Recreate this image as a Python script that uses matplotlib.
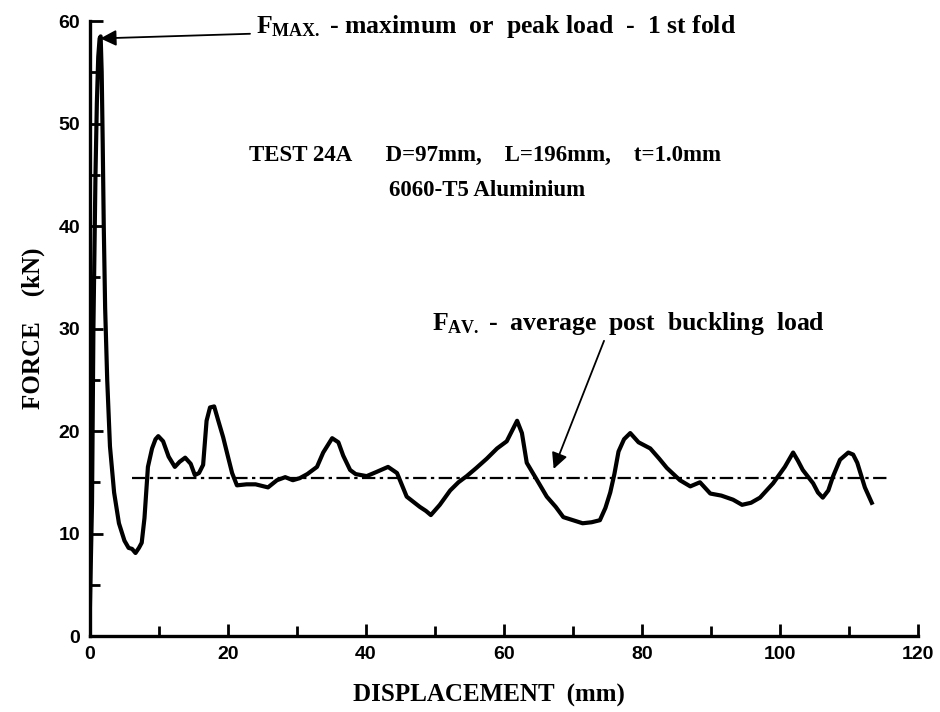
import numpy as np
import matplotlib.pyplot as plt
from matplotlib.ticker import MultipleLocator

# --- data ---
displacement = [0.0, 0.15, 0.3, 0.5, 0.8, 1.0, 1.2, 1.4, 1.55, 1.7, 1.85, 2.0, 2.2, 2.5, 2.9,
                3.5, 4.2, 5.0, 5.6, 6.1, 6.6, 7.1, 7.5, 7.9, 8.4, 9.0, 9.5, 9.9, 10.6,
                11.4, 12.3, 13.0, 13.8, 14.6, 15.2, 15.8, 16.4, 16.9, 17.4, 18.0, 18.6,
                19.3, 20.0, 20.6, 21.3, 22.7, 24.0, 25.8, 27.1, 28.3, 29.4, 30.4, 31.5,
                32.9, 33.8, 35.1, 36.0, 36.7, 37.7, 38.5, 40.1, 41.5, 43.2, 44.5, 45.9,
                47.8, 48.7, 49.4, 50.7, 52.2, 53.4, 54.6, 56.0, 57.5, 59.0, 60.4, 61.3,
                61.9, 62.6, 63.3, 64.8, 66.2, 67.5, 68.6, 70.0, 71.4, 72.7, 73.9, 74.7,
                75.4, 76.0, 76.6, 77.4, 78.3, 79.5, 81.2, 82.5, 83.6, 85.5, 87.0, 88.4,
                89.9, 91.5, 93.2, 94.5, 95.8, 97.1, 99.0, 100.7, 101.9, 102.6, 103.3,
                104.8, 105.5, 106.2, 107.0, 107.7, 108.7, 109.9, 110.6, 111.2, 112.3,
                113.3]
force = [3.0, 8.0, 13.0, 30.0, 45.0, 52.0, 56.5, 58.3, 58.5, 55.0, 48.0, 40.0, 32.0, 25.0, 18.5,
         14.0, 11.0, 9.3, 8.6, 8.5, 8.1, 8.6, 9.1, 11.5, 16.5, 18.3, 19.2, 19.5, 19.0,
         17.5, 16.5, 17.0, 17.4, 16.8, 15.7, 15.9, 16.7, 21.0, 22.3, 22.4, 21.0,
         19.4, 17.5, 15.9, 14.7, 14.8, 14.8, 14.5, 15.2, 15.5, 15.2, 15.4, 15.8,
         16.5, 17.9, 19.3, 18.9, 17.6, 16.2, 15.8, 15.6, 16.0, 16.5, 15.9, 13.6,
         12.6, 12.2, 11.8, 12.8, 14.2, 15.0, 15.6, 16.4, 17.3, 18.3, 19.0, 20.2,
         21.0, 19.8, 16.9, 15.2, 13.6, 12.6, 11.6, 11.3, 11.0, 11.1, 11.3, 12.5,
         14.0, 15.8, 18.0, 19.2, 19.8, 18.9, 18.3, 17.3, 16.4, 15.2, 14.6, 15.0,
         13.9, 13.7, 13.3, 12.8, 13.0, 13.5, 14.9, 16.5, 17.9, 17.1, 16.2,
         14.9, 14.0, 13.5, 14.2, 15.6, 17.2, 17.9, 17.7, 16.9, 14.5,
         13.0]

# average post buckling load
avg_x = [6.1, 115.5]
avg_force = [15.4, 15.4]

plt.rcParams['mathtext.fontset'] = 'custom'
plt.rcParams['mathtext.rm'] = 'Liberation Serif:bold'
plt.rcParams['mathtext.it'] = 'Liberation Serif:bold'

fig = plt.figure(figsize=(9.4, 7.12), dpi=100)
ax = fig.add_axes([0.0957, 0.1067, 0.8809, 0.8638])

ax.plot(displacement, force, color='black', linewidth=3.0, solid_joinstyle='round')
ax.plot(avg_x, avg_force, color='black', linewidth=1.6, linestyle=(0, (6, 2, 1.5, 2)))

ax.set_xlim(0, 120)
ax.set_ylim(0, 60)
ax.xaxis.set_major_locator(MultipleLocator(20))
ax.xaxis.set_minor_locator(MultipleLocator(10))
ax.yaxis.set_major_locator(MultipleLocator(10))
ax.yaxis.set_minor_locator(MultipleLocator(5))
for s in ['top', 'right']:
    ax.spines[s].set_visible(False)
for s in ['left', 'bottom']:
    ax.spines[s].set_linewidth(2.4)
ax.tick_params(which='both', direction='in', width=2, color='black')
ax.tick_params(which='major', length=9, pad=7)
ax.tick_params(which='minor', length=7)
for lab in ax.get_xticklabels() + ax.get_yticklabels():
    lab.set_fontfamily('Liberation Sans')
    lab.set_fontweight('bold')
    lab.set_fontsize(14)

serif = dict(family='Liberation Serif', weight='bold')
ax.set_xlabel('DISPLACEMENT  (mm)', fontsize=18, **serif)
ax.xaxis.set_label_coords(0.482, -0.078)
ax.set_ylabel('FORCE    (kN)', fontsize=18, labelpad=10, **serif)

ax.text(57.2, 46.9, 'TEST 24A      D=97mm,    L=196mm,    t=1.0mm', ha='center', va='center',
        fontsize=16.5, **serif)
ax.text(57.5, 43.5, '6060-T5 Aluminium', ha='center', va='center', fontsize=16.5, **serif)

ax.annotate(r'F$_{\mathrm{MAX.}}$ - maximum  or  peak load  -  1 st fold', xy=(1.5, 58.3),
            xytext=(24.0, 59.5), ha='left', va='center', fontsize=18.5, **serif,
            annotation_clip=False,
            arrowprops=dict(arrowstyle='-|>', color='black', lw=1.3, mutation_scale=24,
                            shrinkA=2, shrinkB=0))
ax.text(49.6, 30.5, r'F$_{\mathrm{AV.}}$ -  average  post  buckling  load', ha='left',
        va='center', fontsize=18.5, **serif)
ax.annotate('', xy=(67.2, 16.3), xytext=(74.5, 28.8),
            arrowprops=dict(arrowstyle='-|>', color='black', lw=1.3, mutation_scale=24,
                            shrinkA=0, shrinkB=0))

fig.savefig('out.png', dpi=100)
